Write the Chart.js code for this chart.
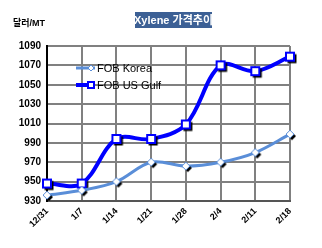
<!DOCTYPE html>
<html><head><meta charset="utf-8">
<script src="https://cdn.jsdelivr.net/npm/chart.js@4"></script>
<style>html,body{margin:0;padding:0;background:#fff}#c{display:block}</style>
</head><body>
<canvas id="c" width="322" height="248"></canvas>
<script>
const categories = ['12/31','1/7','1/14','1/21','1/28','2/4','2/11','2/18'];
const fobKorea = [936, 941, 950, 970, 966, 970, 980, 999];
const fobUSGulf = [948, 948, 994, 994, 1009, 1070, 1064, 1079];
const yTicks = [930, 950, 970, 990, 1010, 1030, 1050, 1070, 1090];
const seriesNames = ['FOB Korea', 'FOB US Gulf'];
const titleText = 'Xylene 가격추이';
const unitText = '달러/MT';

const FONT = '"Liberation Sans", Arial, "Noto Sans CJK KR", sans-serif';
const KOREA_COL = '#5A8ED8';
const GULF_COL = '#0000FF';

function makeMarker(kind, small){
  const s = 16, c = document.createElement('canvas');
  c.width = s; c.height = s;
  const g = c.getContext('2d');
  g.shadowColor = small ? 'transparent' : '#000'; g.shadowOffsetX = 2; g.shadowOffsetY = 2; g.shadowBlur = 0;
  g.fillStyle = '#fff';
  if (kind === 'diamond') {
    const r = small ? 3 : 4;
    g.beginPath(); g.moveTo(8,8-r); g.lineTo(8+r,8); g.lineTo(8,8+r); g.lineTo(8-r,8); g.closePath();
    g.fill();
    g.shadowColor = 'transparent';
    g.strokeStyle = KOREA_COL; g.lineWidth = 1; g.stroke();
  } else {
    const h = small ? 3 : 4;
    g.fillRect(8-h-0.5,8-h-0.5,2*h+1,2*h+1);
    g.shadowColor = 'transparent';
    g.strokeStyle = GULF_COL; g.lineWidth = 2; g.strokeRect(8-h,8-h,2*h,2*h);
  }
  return c;
}
const diamondImg = makeMarker('diamond', false);
const squareImg = makeMarker('square', false);
const diamondSm = makeMarker('diamond', true);
const squareSm = makeMarker('square', true);

const decor = {
  id: 'decor',
  afterDraw(chart){
    const ctx = chart.ctx;
    ctx.save();
    // title box
    ctx.fillStyle = '#3C6095';
    ctx.fillRect(135, 12, 77, 16);
    ctx.fillStyle = '#fff';
    ctx.font = 'bold 11px ' + FONT;
    ctx.textAlign = 'center'; ctx.textBaseline = 'middle';
    ctx.fillText(titleText, 173.5, 20.5);
    // unit
    ctx.fillStyle = '#000';
    ctx.font = 'bold 9px ' + FONT;
    ctx.textAlign = 'left';
    ctx.fillText(unitText, 13, 24);
    // legend
    const rows = [
      {y: 68, col: KOREA_COL, w: 3, img: diamondSm},
      {y: 85, col: GULF_COL, w: 4, img: squareSm}
    ];
    ctx.font = '11px ' + FONT;
    rows.forEach((r, i) => {
      ctx.strokeStyle = r.col; ctx.lineWidth = r.w;
      ctx.beginPath(); ctx.moveTo(76, r.y); ctx.lineTo(95, r.y); ctx.stroke();
      ctx.drawImage(r.img, 91 - 8, r.y - 8);
      ctx.fillStyle = '#000';
      ctx.textAlign = 'left'; ctx.textBaseline = 'middle';
      ctx.fillText(chart.data.datasets[i].label, 97, r.y + 1);
    });
    ctx.restore();
  }
};

new Chart(document.getElementById('c'), {
  type: 'line',
  data: {
    labels: categories,
    datasets: [
      {label: seriesNames[0], data: fobKorea, borderColor: KOREA_COL, borderWidth: 3,
       pointStyle: diamondImg, tension: 0.35, fill: false},
      {label: seriesNames[1], data: fobUSGulf, borderColor: GULF_COL, borderWidth: 4,
       pointStyle: squareImg, tension: 0.35, fill: false}
    ]
  },
  options: {
    responsive: false, animation: false,
    layout: {padding: {left: 0, top: 46, right: 32, bottom: 0}},
    plugins: {legend: {display: false}, tooltip: {enabled: false}, title: {display: false}},
    scales: {
      x: {
        offset: false,
        afterFit(s){ s.height = 47; },
        grid: {color: '#808080', lineWidth: 2, drawTicks: false},
        border: {color: '#555', width: 2},
        ticks: {color: '#000', font: {family: FONT, size: 9, weight: 'bold'}, minRotation: 45, maxRotation: 45, padding: 5}
      },
      y: {
        min: 930, max: 1090,
        afterFit(s){ s.width = 47; },
        afterBuildTicks(s){ s.ticks = yTicks.map(v => ({value: v})); },
        grid: {color: '#808080', lineWidth: 2, drawTicks: false},
        border: {color: '#000', width: 2},
        ticks: {color: '#000', font: {family: FONT, size: 10, weight: 'bold'}, padding: 6,
                callback: v => String(v)}
      }
    }
  },
  plugins: [decor]
});
</script>
</body></html>
